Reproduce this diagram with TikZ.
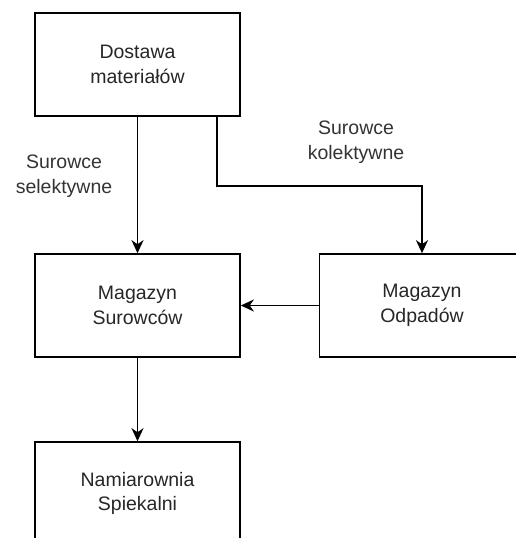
\documentclass[tikz,border=0pt]{standalone}
\usepackage{fontspec}
\setmainfont{Liberation Sans}
\usetikzlibrary{arrows.meta,calc}
\begin{document}
\begin{tikzpicture}[x=1pt,y=-1pt,
  box/.style={draw=black,line width=1.6pt,minimum width=205pt,minimum height=103pt,inner sep=0pt,align=center,font=\fontsize{19.5}{24.5}\selectfont,text=black!85},
  lbl/.style={align=center,font=\fontsize{19.5}{24.5}\selectfont,text=black!80,inner sep=0pt},
  conn/.style={draw=black,line width=1.6pt,-{Stealth[length=13pt,width=12pt,inset=4pt]}}]
\useasboundingbox (0,0) rectangle (515,538);
\node[box] (dost) at (137.5,64.5) {Dostawa\\materiałów};
\node[box] (mags) at (137.5,305.5) {Magazyn\\Surowców};
\node[box] (mago) at (422,305.5) {Magazyn\\Odpadów};
\node[box] (nami) at (137.5,493.5) {Namiarownia\\Spiekalni};
\node[lbl] (lsel) at (64,176) {Surowce\\selektywne};
\node[lbl] (lkol) at (356,142) {Surowce\\kolektywne};
\coordinate (kstart) at ($(dost.south west)!0.886!(dost.south east)$);
\coordinate (kbend) at ($(kstart)+(0,69)$);
\draw[conn] (dost.south) -- (mags.north);
\draw[conn] (kstart) -- (kbend) -| (mago.north);
\draw[conn] (mago.west) -- (mags.east);
\draw[conn] (mags.south) -- (nami.north);
\end{tikzpicture}
\end{document}
